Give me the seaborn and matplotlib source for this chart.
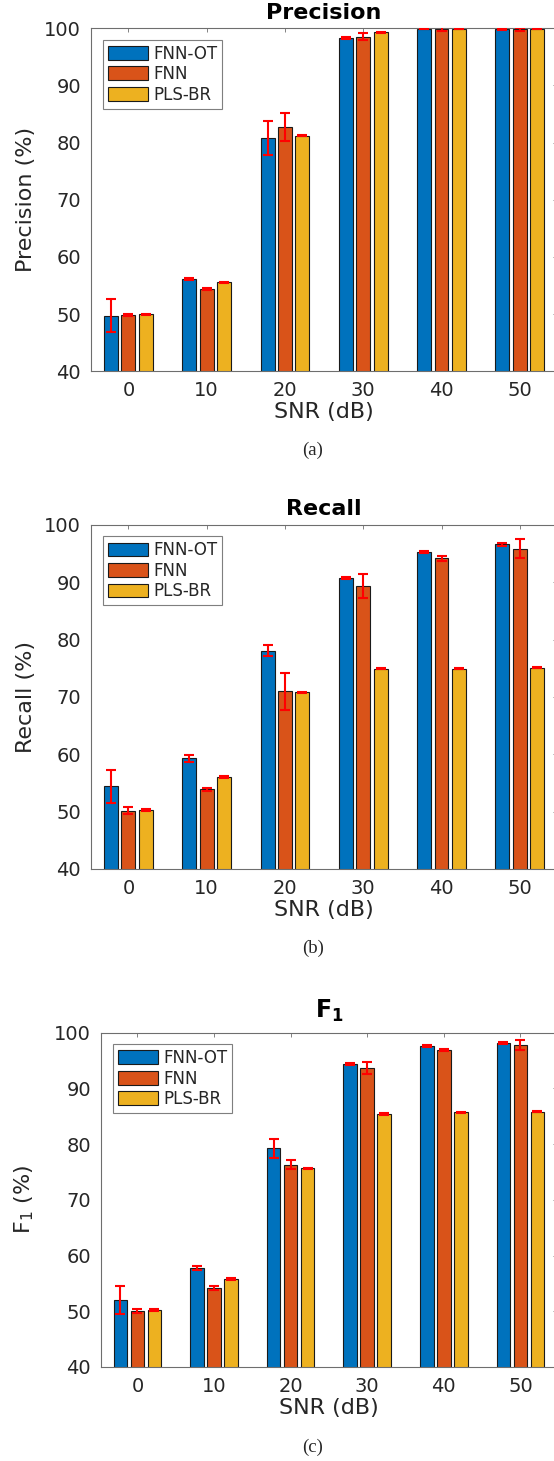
import numpy as np
import pandas as pd
import matplotlib
matplotlib.use("Agg")
import matplotlib.pyplot as plt
import seaborn as sns

# ---------------- data ----------------
snr_labels = ["0", "10", "20", "30", "40", "50"]
methods = ["FNN-OT", "FNN", "PLS-BR"]

prec_fnnot = [49.7, 56.2, 80.8, 98.3, 99.95, 99.9]
prec_fnnot_err = [2.9, 0.2, 2.95, 0.2, 0.1, 0.15]
prec_fnn = [49.9, 54.4, 82.8, 98.5, 99.9, 99.8]
prec_fnn_err = [0.15, 0.2, 2.45, 0.6, 0.3, 0.3]
prec_pls = [50.0, 55.6, 81.2, 99.3, 99.95, 99.95]
prec_pls_err = [0.1, 0.1, 0.1, 0.1, 0.1, 0.1]

rec_fnnot = [54.4, 59.3, 78.1, 90.7, 95.3, 96.6]
rec_fnnot_err = [2.9, 0.55, 1.0, 0.2, 0.15, 0.2]
rec_fnn = [50.2, 53.9, 71.0, 89.4, 94.2, 95.9]
rec_fnn_err = [0.6, 0.3, 3.2, 2.05, 0.45, 1.7]
rec_pls = [50.3, 56.05, 70.8, 74.9, 74.9, 75.1]
rec_pls_err = [0.15, 0.2, 0.1, 0.1, 0.1, 0.1]

f1_fnnot = [52.0, 57.7, 79.3, 94.4, 97.6, 98.1]
f1_fnnot_err = [2.45, 0.35, 1.7, 0.15, 0.15, 0.2]
f1_fnn = [50.0, 54.2, 76.3, 93.7, 96.9, 97.8]
f1_fnn_err = [0.35, 0.3, 0.85, 1.05, 0.25, 0.85]
f1_pls = [50.2, 55.8, 75.7, 85.4, 85.75, 85.8]
f1_pls_err = [0.2, 0.1, 0.1, 0.15, 0.1, 0.1]

yticks = [40, 50, 60, 70, 80, 90, 100]

# ---------------- style ----------------
sns.set_style("white")
plt.rcParams["font.family"] = ["DejaVu Sans"]
plt.rcParams["mathtext.fontset"] = "dejavusans"

colors = ["#0072BD", "#D95319", "#EDB120"]
SPINE = "#6e6e6e"
TXT = "#262626"

W, H = 554, 1461
fig = plt.figure(figsize=(W / 100, H / 100), dpi=100)


def px_axes(left, right, top, bottom):
    return fig.add_axes([left / W, 1 - bottom / H, (right - left) / W, (bottom - top) / H])


panels = [
    dict(title="Precision", ylabel="Precision (%)",
         vals=[prec_fnnot, prec_fnn, prec_pls],
         errs=[prec_fnnot_err, prec_fnn_err, prec_pls_err],
         box=(90.8, 557.4, 28.3, 371.3), cap="(a)", cap_y=450, ylpad=6,
         tpad=7, tsize=16),
    dict(title="Recall", ylabel="Recall (%)",
         vals=[rec_fnnot, rec_fnn, rec_pls],
         errs=[rec_fnnot_err, rec_fnn_err, rec_pls_err],
         box=(90.8, 557.4, 525.0, 869.0), cap="(b)", cap_y=948, ylpad=6,
         tpad=7, tsize=16),
    dict(title=r"$\mathbf{F}_{\mathbf{1}}$", ylabel=r"F$_1$ (%)",
         vals=[f1_fnnot, f1_fnn, f1_pls],
         errs=[f1_fnnot_err, f1_fnn_err, f1_pls_err],
         box=(100.7, 557.2, 1032.7, 1367.0), cap="(c)", cap_y=1447, ylpad=13,
         tpad=11, tsize=17),
]

for p in panels:
    l, r, t, b = p["box"]
    ax = px_axes(l, r, t, b)
    df = pd.DataFrame({
        "SNR": snr_labels * len(methods),
        "Method": np.repeat(methods, len(snr_labels)),
        "Value": np.concatenate(p["vals"]),
    })
    sns.barplot(data=df, x="SNR", y="Value", hue="Method",
                order=snr_labels, hue_order=methods, palette=colors,
                width=0.667, gap=0.2, errorbar=None, saturation=1,
                edgecolor="#1a1a1a", linewidth=0.8, ax=ax)
    for cont, err in zip(ax.containers, p["errs"]):
        xs = [bar.get_x() + bar.get_width() / 2 for bar in cont]
        ys = [bar.get_height() for bar in cont]
        ax.errorbar(xs, ys, yerr=err, fmt="none", ecolor="red",
                    elinewidth=1.5, capsize=3.5, capthick=1.5, zorder=5)

    ax.set_ylim(40, 100)
    ax.set_yticks(yticks)
    ax.set_xlim(-0.48, 5.48)
    ax.tick_params(direction="in", length=3, width=0.6, top=True, right=True,
                   labelsize=14, color=SPINE, labelcolor=TXT, pad=7)
    for s in ax.spines.values():
        s.set_visible(True)
        s.set_color(SPINE)
        s.set_linewidth(0.8)
    ax.set_xlabel("SNR (dB)", fontsize=16, color=TXT, labelpad=1.5)
    ax.set_ylabel(p["ylabel"], fontsize=16, color=TXT, labelpad=p["ylpad"])
    ax.set_title(p["title"], fontsize=p["tsize"], fontweight="bold",
                 pad=p["tpad"], color="black")
    ax.grid(False)

    wpx, hpx = r - l, b - t
    sns.move_legend(ax, loc="upper left",
                    bbox_to_anchor=(12.5 / wpx, 1 - 11.3 / hpx),
                    borderaxespad=0, title=None, frameon=True, fancybox=False,
                    fontsize=12, handlelength=2.4, handleheight=0.9,
                    handletextpad=0.3, labelspacing=0.15, borderpad=0.3,
                    edgecolor="#7f7f7f", framealpha=1)
    leg = ax.get_legend()
    leg.get_frame().set_linewidth(0.8)
    for txt in leg.get_texts():
        txt.set_color(TXT)

    fig.text(313 / W, 1 - p["cap_y"] / H, p["cap"], ha="center", va="center",
             fontsize=13.5, family="Liberation Serif")

fig.savefig("out.png", dpi=100)
